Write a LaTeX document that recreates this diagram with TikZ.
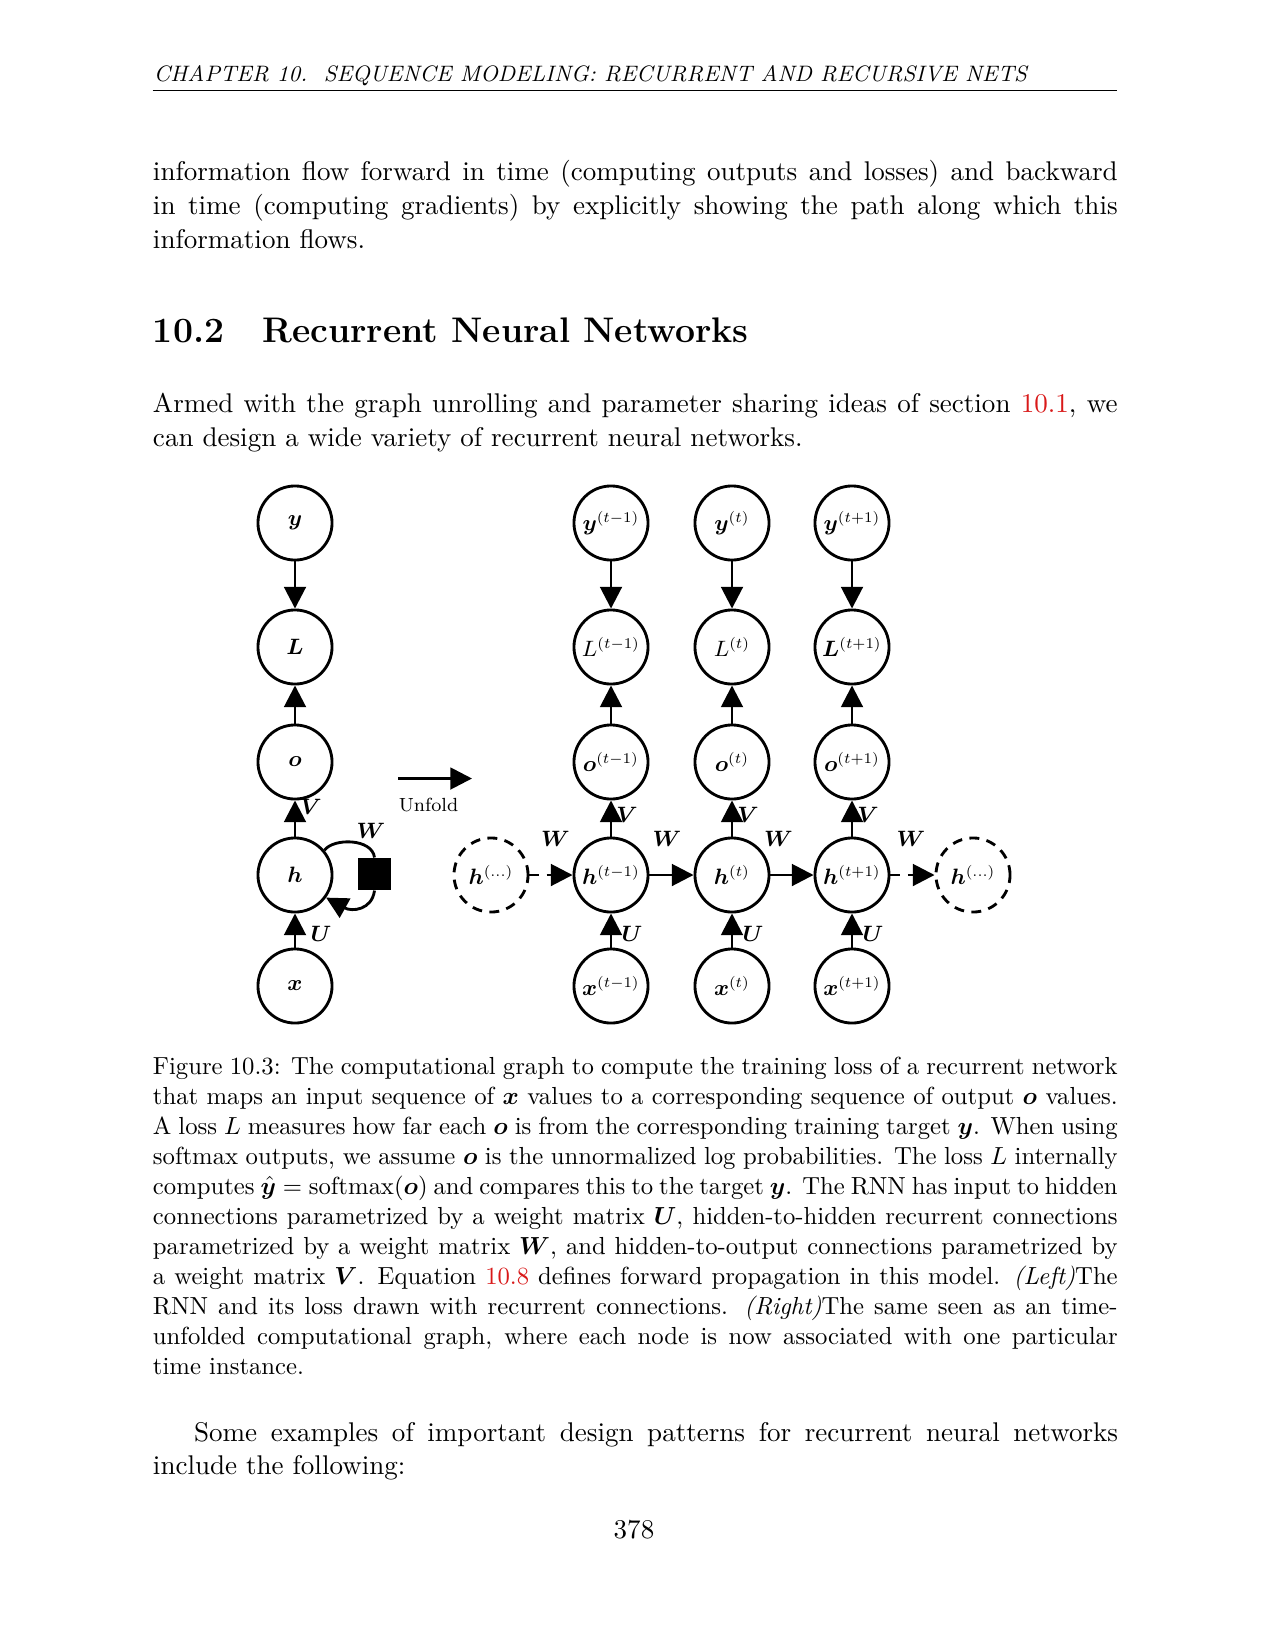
\documentclass[tikz,border=0pt]{standalone}
\usepackage{amsmath}
\usepackage{bm}
\usepackage{graphicx}
\usetikzlibrary{arrows.meta}
\definecolor{linkred}{rgb}{0.85,0.1,0.1}
\newcommand{\jl}[1]{\makebox[390.7pt][s]{#1}}
\newcommand{\supx}[1]{^{\raisebox{-0.4pt}{\scalebox{0.86}{$\scriptstyle #1$}}}}
\begin{document}
\begin{tikzpicture}[x=0.405pt,y=-0.405pt,
  nd/.style={circle,draw,line width=1.15pt,minimum size=30pt,inner sep=0pt,font=\fontsize{9.3}{11}\selectfont},
  dnd/.style={nd,dash pattern=on 4pt off 3pt},
  arr/.style={-{Triangle[length=8.8pt,width=8.8pt]},line width=1.15pt},
  darr/.style={arr,dash pattern=on 4pt off 3pt},
  wl/.style={font=\fontsize{9.3}{11}\selectfont,inner sep=0pt},
  body/.style={anchor=base west,inner sep=0pt,font=\fontsize{10.95}{13.6}\selectfont},
  capt/.style={anchor=base west,inner sep=0pt,font=\fontsize{10}{12}\selectfont},
]
\fill[white] (0,0) rectangle (1275,1650);
\useasboundingbox (0,0) rectangle (1275,1650);

% running head
\node[body,font=\fontsize{9.05}{11}\selectfont\itshape] (hdr) at (153.5,82) {CHAPTER 10.\ \ SEQUENCE MODELING: RECURRENT AND RECURSIVE NETS};
\coordinate (rl) at (152.5,90.5);
\coordinate (rr) at (1117.3,90.5);
\draw[line width=0.5pt] (rl) -- (rr);

% paragraph 1
\node[body] (p1a) at (152.5,180.7) {\jl{information flow forward in time (computing outputs and losses) and backward}};
\node[body] (p1b) at (152.5,214.4) {\jl{in time (computing gradients) by explicitly showing the path along which this}};
\node[body] (p1c) at (152.5,248.1) {information flows.};

% section
\node[body,font=\fontsize{14.4}{18}\selectfont\bfseries] (secn) at (152.5,342.7) {10.2};
\node[body,font=\fontsize{14.4}{18}\selectfont\bfseries] (sect) at (262,342.7) {Recurrent Neural Networks};

% paragraph 2
\node[body] (p2a) at (152.5,412.7) {\jl{Armed with the graph unrolling and parameter sharing ideas of section \textcolor{linkred}{10.1}, we}};
\node[body] (p2b) at (152.5,446.4) {can design a wide variety of recurrent neural networks.};

% ---------- figure: left (folded) ----------
\node[nd] (y) at (295,523) {$\bm y$};
\node[nd] (L) at (295,647) {$\bm L$};
\node[nd] (o) at (295,762) {$\bm o$};
\node[nd] (h) at (295,875) {$\bm h$};
\node[nd] (x) at (295,986) {$\bm x$};
\node[fill,minimum size=13pt,inner sep=0pt] (sq) at (374.5,874) {};
\draw[arr] (y) -- (L);
\draw[arr] (o) -- (L);
\draw[arr] (h) -- (o);
\draw[arr] (x) -- (h);
\draw[line width=1.15pt] (h.40) .. controls (333,838) and (372,838) .. (sq.north);
\draw[arr] (sq.south) .. controls (372,910) and (352,912) .. (h.-36);
\node[wl] (lV) at (311,807) {$\bm V$};
\node[wl] (lW) at (371,831) {$\bm W$};
\node[wl] (lU) at (321,934) {$\bm U$};

% unfold arrow
\coordinate (ua) at (398,778.5);
\coordinate (ub) at (472,778.5);
\draw[arr] (ua) -- (ub);
\node[font=\fontsize{7.7}{9}\selectfont,inner sep=0pt] (unf) at (428.5,805) {Unfold};

% ---------- figure: right (unfolded) ----------
\foreach \n/\cx/\s/\Ls in {a/611/t-1/L, b/732/t/L, c/852/t+1/\bm L}{
  \node[nd] (y\n) at (\cx,523) {$\bm y\supx{(\s)}$};
  \node[nd] (L\n) at (\cx,647) {$\Ls\supx{(\s)}$};
  \node[nd] (o\n) at (\cx,762) {$\bm o\supx{(\s)}$};
  \node[nd] (h\n) at (\cx,875) {$\bm h\supx{(\s)}$};
  \node[nd] (x\n) at (\cx,986) {$\bm x\supx{(\s)}$};
  \draw[arr] (y\n) -- (L\n);
  \draw[arr] (o\n) -- (L\n);
  \draw[arr] (h\n) -- (o\n);
  \draw[arr] (x\n) -- (h\n);
  \node[wl] (V\n) at (\cx+16,815) {$\bm V$};
  \node[wl] (U\n) at (\cx+21,934) {$\bm U$};
}
\node[dnd] (hl) at (491,875) {$\bm h\supx{(\ldots)}$};
\node[dnd] (hr) at (973,875) {$\bm h\supx{(\ldots)}$};
\draw[darr] (hl) -- (ha);
\draw[arr] (ha) -- (hb);
\draw[arr] (hb) -- (hc);
\draw[darr] (hc) -- (hr);
\node[wl] (W1) at (555.5,838.5) {$\bm W$};
\node[wl] (W2) at (667,838.5) {$\bm W$};
\node[wl] (W3) at (778.5,838.5) {$\bm W$};
\node[wl] (W4) at (911,838.5) {$\bm W$};

% caption
\node[capt] (c1) at (152.5,1074.3) {\jl{Figure 10.3: The computational graph to compute the training loss of a recurrent network}};
\node[capt] (c2) at (152.5,1104.3) {\jl{that maps an input sequence of $\bm x$ values to a corresponding sequence of output $\bm o$ values.}};
\node[capt] (c3) at (152.5,1134.3) {\jl{A loss $L$ measures how far each $\bm o$ is from the corresponding training target $\bm y$. When using}};
\node[capt] (c4) at (152.5,1164.3) {\jl{softmax outputs, we assume $\bm o$ is the unnormalized log probabilities. The loss $L$ internally}};
\node[capt] (c5) at (152.5,1194.3) {\jl{computes $\smash{\hat{\bm y}}=\mathrm{softmax}(\bm o)$ and compares this to the target $\bm y$. The RNN has input to hidden}};
\node[capt] (c6) at (152.5,1224.3) {\jl{connections parametrized by a weight matrix $\bm U$, hidden-to-hidden recurrent connections}};
\node[capt] (c7) at (152.5,1254.3) {\jl{parametrized by a weight matrix $\bm W$, and hidden-to-output connections parametrized by}};
\node[capt] (c8) at (152.5,1284.3) {\jl{a weight matrix $\bm V$. Equation \textcolor{linkred}{10.8} defines forward propagation in this model. \emph{(Left)}The}};
\node[capt] (c9) at (152.5,1314.3) {\jl{RNN and its loss drawn with recurrent connections. \emph{(Right)}The same seen as an time-}};
\node[capt] (c10) at (152.5,1344.3) {\jl{unfolded computational graph, where each node is now associated with one particular}};
\node[capt] (c11) at (152.5,1374.3) {time instance.};

% paragraph 3
\node[body] (p3a) at (193.6,1441) {\makebox[374.2pt][s]{Some examples of important design patterns for recurrent neural networks}};
\node[body] (p3b) at (152.5,1474.7) {include the following:};

% page number
\node[body,anchor=base] (pg) at (634,1538) {378};
\end{tikzpicture}
\end{document}
